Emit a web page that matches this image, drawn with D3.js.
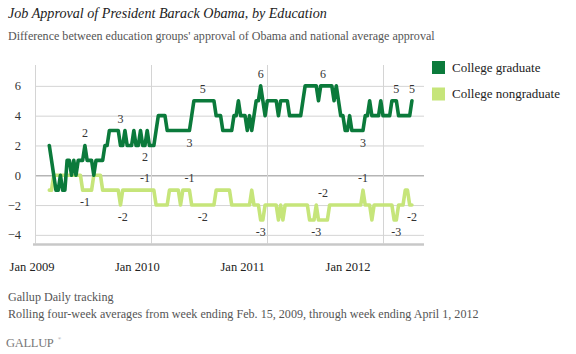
<!DOCTYPE html>
<html>
<head>
<meta charset="utf-8">
<script src="https://cdn.jsdelivr.net/npm/d3@7"></script>
<style>
  html, body { margin: 0; padding: 0; background: #fff; }
  svg { display: block; }
</style>
</head>
<body>
<svg id="chart" width="576" height="354"></svg>
<script>
// ---------------- DATA ----------------
const title = "Job Approval of President Barack Obama, by Education";
const subtitle = "Difference between education groups' approval of Obama and national average approval";
const footnotes = ["Gallup Daily tracking", "Rolling four-week averages from week ending Feb. 15, 2009, through week ending April 1, 2012"];
const seriesNames = ["College graduate", "College nongraduate"];
const firstWeekEnding = "2009-02-15"; // weekly points
const yTicks = [-4, -2, 0, 2, 4, 6];
const xTickYears = [2009, 2010, 2011, 2012];
const xTickLabels = ["Jan 2009", "Jan 2010", "Jan 2011", "Jan 2012"];

const collegeGraduate = [
  2, 1, 0, -1, -1, 0, -1, -1, 1, 1,
  0, 1, 0, 1, 1, 1, 2, 1, 1, 1,
  0, 1, 1, 1, 1, 2, 2, 3, 3, 3,
  3, 3, 2, 2, 3, 2, 2, 2, 3, 2,
  2, 3, 2, 2, 3, 2, 2, 2, 3, 4,
  4, 4, 4, 3, 3, 3, 3, 3, 3, 3,
  3, 3, 3, 3, 4, 5, 5, 5, 5, 5,
  5, 5, 5, 5, 5, 4, 4, 4, 3, 3,
  3, 3, 3, 4, 4, 5, 4, 4, 4, 3,
  4, 3, 4, 5, 5, 6, 5, 4, 5, 5,
  5, 5, 5, 4, 5, 5, 5, 5, 4, 4,
  4, 4, 4, 4, 5, 6, 6, 6, 6, 6,
  6, 5, 6, 6, 6, 6, 6, 6, 5, 6,
  5, 4, 4, 3, 3, 4, 3, 3, 3, 3,
  3, 3, 4, 4, 5, 4, 4, 4, 4, 5,
  4, 4, 4, 4, 5, 5, 5, 4, 4, 4,
  4, 4, 4, 5
];
const collegeNongraduate = [
  -1, -1, 0, 0, 0, 0, 0, 0, 0, 0,
  0, 0, 0, 0, 0, -1, -1, -1, -1, -1,
  0, 0, 0, 0, -1, -1, -1, -1, -1, -1,
  -1, -1, -2, -1, -1, -1, -1, -1, -1, -1,
  -1, -1, -1, -1, -1, -1, -1, -1, -2, -2,
  -2, -2, -2, -2, -1, -1, -1, -1, -1, -2,
  -1, -1, -1, -1, -2, -2, -2, -2, -2, -2,
  -2, -2, -2, -2, -2, -1, -1, -1, -1, -1,
  -1, -1, -2, -2, -2, -2, -2, -2, -2, -2,
  -2, -1, -2, -2, -2, -3, -3, -2, -2, -2,
  -2, -2, -2, -3, -2, -3, -2, -2, -2, -2,
  -2, -2, -2, -2, -2, -2, -2, -3, -3, -3,
  -2, -3, -3, -3, -3, -3, -2, -2, -2, -2,
  -2, -2, -2, -2, -2, -2, -2, -2, -2, -2,
  -2, -1, -2, -2, -2, -3, -2, -2, -2, -2,
  -2, -2, -2, -2, -2, -3, -3, -2, -2, -2,
  -1, -1, -2, -2
];
// point labels: week index, value shown, placement
const gradLabels = [
  [16, 2, "above"], [32, 3, "above"], [43, 2, "below"], [63, 3, "below"], [69, 5, "above"],
  [95, 6, "above"], [123, 6, "above"], [141, 3, "below"], [156, 5, "above"], [163, 5, "above"]
];
const nongradLabels = [
  [16, -1, "below"], [33, -2, "below"], [43, -1, "above"], [63, -1, "above"], [69, -2, "below"],
  [95, -3, "below"], [120, -3, "below"], [123, -2, "above"], [141, -1, "above"], [156, -3, "below"], [163, -2, "below"]
];
const colors = ["#0b7a3b", "#c6e57a"];

// ---------------- LAYOUT ----------------
const svg = d3.select("#chart");
const serif = "'Liberation Serif', 'DejaVu Serif', serif";
const plot = { left: 35, right: 424, top: 65, bottom: 243.5 };

const start = d3.timeParse("%Y-%m-%d")(firstWeekEnding);
const dates = collegeGraduate.map((_, i) => d3.timeDay.offset(start, 7 * i));

const x = d3.scaleTime()
  .domain([new Date(2009, 0, 1), new Date(2012, 0, 1)])
  .range([plot.left, 383]);
const y = d3.scaleLinear().domain([-4.58, 7.4]).range([plot.bottom, plot.top]);
const labelX = d3.scaleLinear().domain([2009, 2012]).range([32, 348]);

function fit(sel, target) {
  const w = sel.node().getComputedTextLength();
  const fs = parseFloat(sel.attr("font-size"));
  sel.attr("font-size", (fs * target / w).toFixed(2));
  return sel;
}

// Title & subtitle
fit(svg.append("text").attr("x", 8).attr("y", 17.5).attr("font-family", serif)
  .attr("font-style", "italic").attr("font-size", 15).attr("fill", "#222").text(title), 319);
fit(svg.append("text").attr("x", 8).attr("y", 39.5).attr("font-family", serif)
  .attr("font-size", 12).attr("fill", "#555").text(subtitle), 427);

// Y gridlines via axis
const yAxis = svg.append("g")
  .attr("transform", `translate(${plot.left},0)`)
  .call(d3.axisLeft(y).tickValues(yTicks).tickSize(-(plot.right - plot.left)).tickPadding(14).tickFormat(d3.format("d")));
yAxis.select(".domain").remove();
yAxis.selectAll(".tick line").attr("stroke", d => d === 0 ? "#b5b5b5" : "#d4d4d4").attr("stroke-width", d => d === 0 ? 1.6 : 1);
yAxis.selectAll(".tick text").attr("font-family", serif).attr("font-size", 12.5).attr("fill", "#333");

// X gridlines (Jan each year)
const xAxis = svg.append("g")
  .attr("transform", `translate(0,${plot.bottom})`)
  .call(d3.axisBottom(x).tickValues(xTickYears.map(yr => new Date(yr, 0, 1))).tickSize(-(plot.bottom - plot.top)).tickFormat(""));
xAxis.select(".domain").remove();
xAxis.selectAll(".tick line").attr("stroke", "#d4d4d4");

// x labels
svg.append("g").selectAll("text").data(xTickYears).join("text")
  .attr("x", d => labelX(d)).attr("y", 271).attr("text-anchor", "middle")
  .attr("font-family", serif).attr("font-size", 12.5).attr("fill", "#222")
  .text((d, i) => xTickLabels[i]);

// bottom baseline
svg.append("line").attr("x1", plot.left - 2).attr("x2", plot.right).attr("y1", plot.bottom + 1).attr("y2", plot.bottom + 1)
  .attr("stroke", "#c8c8c8").attr("stroke-width", 2.5);

// lines
const line = d3.line().x((d, i) => x(dates[i])).y(d => y(d)).curve(d3.curveLinear);
[collegeNongraduate, collegeGraduate].forEach((s, k) => {
  svg.append("path").datum(s).attr("d", line)
    .attr("fill", "none").attr("stroke", colors[1 - k]).attr("stroke-width", 3.6)
    .attr("stroke-linejoin", "round").attr("stroke-linecap", "round");
});

// point labels
function drawLabels(arr) {
  svg.append("g").selectAll("text").data(arr).join("text")
    .attr("x", d => x(dates[d[0]]))
    .attr("y", d => y(d[1]) + (d[2] === "above" ? -8 : 16))
    .attr("text-anchor", "middle").attr("font-family", serif).attr("font-size", 12).attr("fill", "#333")
    .text(d => d[1]);
}
drawLabels(gradLabels);
drawLabels(nongradLabels);

// legend
const legend = svg.append("g").selectAll("g").data(seriesNames).join("g")
  .attr("transform", (d, i) => `translate(432,${61 + i * 26.5})`);
legend.append("rect").attr("width", 13).attr("height", 13).attr("fill", (d, i) => colors[i]);
legend.append("text").attr("x", 20).attr("y", 10.5).attr("font-family", serif).attr("font-size", 13)
  .attr("fill", "#222").text(d => d);

// footnotes
const foot = svg.append("g").selectAll("text").data(footnotes).join("text")
  .attr("x", 8).attr("y", (d, i) => 301 + i * 17)
  .attr("font-family", serif).attr("font-size", 12).attr("fill", "#555").text(d => d);
const longFoot = d3.select(foot.nodes()[1]);
fit(longFoot, 471);
foot.attr("font-size", longFoot.attr("font-size"));

// Gallup wordmark
svg.append("text").attr("x", 6).attr("y", 347).attr("font-family", serif).attr("font-size", 12.5)
  .attr("letter-spacing", -0.3).attr("fill", "#777").text("GALLUP");
svg.append("text").attr("x", 58).attr("y", 340).attr("font-family", serif).attr("font-size", 4)
  .attr("fill", "#777").text("®");
</script>
</body>
</html>
